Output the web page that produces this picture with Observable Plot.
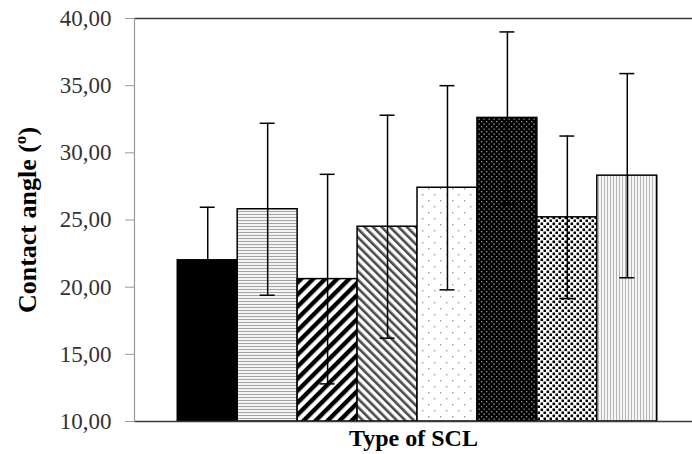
<!DOCTYPE html>
<html>
<head>
<meta charset="utf-8">
<script src="https://cdn.jsdelivr.net/npm/d3@7"></script>
<script src="https://cdn.jsdelivr.net/npm/@observablehq/plot@0.6"></script>
<style>
  html, body { margin: 0; padding: 0; background: #fff; }
  #chart svg { display: block; }
</style>
</head>
<body>
<div id="chart"></div>
<script>
// Data
const categories = ["SCL 1", "SCL 2", "SCL 3", "SCL 4", "SCL 5", "SCL 6", "SCL 7", "SCL 8"];
const means = [22.0, 25.8, 20.6, 24.5, 27.4, 32.6, 25.2, 28.3];
const sds = [3.95, 6.4, 7.8, 8.3, 7.6, 6.4, 6.05, 7.6];
const yTicks = [10, 15, 20, 25, 30, 35, 40];
const yLabel = "Contact angle (º)";
const xLabel = "Type of SCL";

// Styles (pattern ids per bar)
const patternIds = ["url(#pSolid)", "url(#pHLines)", "url(#pDiagThick)", "url(#pDiagBack)",
                    "url(#pDotsSparse)", "url(#pBlackDots)", "url(#pBlackSquares)", "url(#pVLines)"];

const data = categories.map((c, i) => ({
  cat: c, mean: means[i], lo: means[i] - sds[i], hi: means[i] + sds[i], pat: patternIds[i]
}));

const serif = "'Liberation Serif', 'Times New Roman', serif";

const plot = Plot.plot({
  width: 692,
  height: 454,
  marginLeft: 134,
  marginRight: 0,
  marginTop: 18,
  marginBottom: 33,
  style: { fontFamily: serif, fontSize: "23px", color: "#333", background: "#fff" },
  x: { domain: categories, paddingInner: 0, paddingOuter: 0.655, align: 0.551, round: false, axis: null },
  y: { domain: [10, 40], axis: null },
  color: { type: "identity" },
  marks: [
    Plot.barY(data, { x: "cat", y1: 10, y2: "mean", fill: "pat", stroke: "#000", strokeWidth: 1.5 }),
    Plot.ruleX(data, { x: "cat", y1: "lo", y2: "hi", stroke: "#000", strokeWidth: 1.5 }),
    Plot.tickY(data, { x: "cat", y: "hi", stroke: "#000", strokeWidth: 1.5, insetLeft: 22.5, insetRight: 22.5 }),
    Plot.tickY(data, { x: "cat", y: "lo", stroke: "#000", strokeWidth: 1.5, insetLeft: 22.5, insetRight: 22.5 }),
    Plot.ruleY([10, 40], { stroke: "#3a3a3a", strokeWidth: 1.5 }),
    Plot.frame({ anchor: "left", stroke: "#999", strokeWidth: 1.2 }),
    Plot.axisY({
      ticks: yTicks, tickSize: 9, tickPadding: 14, stroke: "#999",
      tickFormat: d => d.toFixed(2).replace(".", ","), label: null,
      fontSize: 23, fill: "#333"
    }),
    Plot.text([yLabel], {
      frameAnchor: "left", rotate: -90, dx: -107, dy: 0,
      fontSize: 26, fontWeight: "bold", fill: "#000", textAnchor: "middle"
    }),
    Plot.text([xLabel], {
      frameAnchor: "bottom", dy: 24, fontSize: 24, fontWeight: "bold", fill: "#000", textAnchor: "middle"
    })
  ]
});

// Pattern definitions
const svg = d3.select(plot);
const defs = svg.insert("defs", ":first-child");

defs.append("pattern").attr("id", "pSolid").attr("patternUnits", "userSpaceOnUse")
  .attr("width", 4).attr("height", 4)
  .append("rect").attr("width", 4).attr("height", 4).attr("fill", "#000");

let p = defs.append("pattern").attr("id", "pHLines").attr("patternUnits", "userSpaceOnUse")
  .attr("width", 4).attr("height", 3);
p.append("rect").attr("width", 4).attr("height", 3).attr("fill", "#f4f4f4");
p.append("rect").attr("y", 1).attr("width", 4).attr("height", 1).attr("fill", "#a5a5a5");

p = defs.append("pattern").attr("id", "pDiagThick").attr("patternUnits", "userSpaceOnUse")
  .attr("width", 8.5).attr("height", 8.5).attr("patternTransform", "rotate(45)");
p.append("rect").attr("width", 8.5).attr("height", 8.5).attr("fill", "#fff");
p.append("rect").attr("width", 4.3).attr("height", 8.5).attr("fill", "#000");

p = defs.append("pattern").attr("id", "pDiagBack").attr("patternUnits", "userSpaceOnUse")
  .attr("width", 6).attr("height", 6).attr("patternTransform", "rotate(-45)");
p.append("rect").attr("width", 6).attr("height", 6).attr("fill", "#fff");
p.append("rect").attr("width", 2.6).attr("height", 6).attr("fill", "#4a4a4a");

p = defs.append("pattern").attr("id", "pDotsSparse").attr("patternUnits", "userSpaceOnUse")
  .attr("width", 12).attr("height", 12);
p.append("rect").attr("width", 12).attr("height", 12).attr("fill", "#fff");
p.append("rect").attr("x", 2).attr("y", 2).attr("width", 1.4).attr("height", 1.4).attr("fill", "#999");
p.append("rect").attr("x", 8).attr("y", 8).attr("width", 1.4).attr("height", 1.4).attr("fill", "#999");

p = defs.append("pattern").attr("id", "pBlackDots").attr("patternUnits", "userSpaceOnUse")
  .attr("width", 5).attr("height", 5);
p.append("rect").attr("width", 5).attr("height", 5).attr("fill", "#000");
p.append("rect").attr("x", 1).attr("y", 1).attr("width", 1.3).attr("height", 1.3).attr("fill", "#9a9a9a");
p.append("rect").attr("x", 3.5).attr("y", 3.5).attr("width", 1.3).attr("height", 1.3).attr("fill", "#9a9a9a");

p = defs.append("pattern").attr("id", "pBlackSquares").attr("patternUnits", "userSpaceOnUse")
  .attr("width", 6).attr("height", 6);
p.append("rect").attr("width", 6).attr("height", 6).attr("fill", "#fff");
p.append("rect").attr("x", 0.5).attr("y", 0.5).attr("width", 2.6).attr("height", 2.6).attr("fill", "#000");
p.append("rect").attr("x", 3.5).attr("y", 3.5).attr("width", 2.6).attr("height", 2.6).attr("fill", "#000");

p = defs.append("pattern").attr("id", "pVLines").attr("patternUnits", "userSpaceOnUse")
  .attr("width", 3).attr("height", 4);
p.append("rect").attr("width", 3).attr("height", 4).attr("fill", "#f6f6f6");
p.append("rect").attr("x", 1).attr("width", 1).attr("height", 4).attr("fill", "#b5b5b5");

document.getElementById("chart").appendChild(plot);
</script>
</body>
</html>
